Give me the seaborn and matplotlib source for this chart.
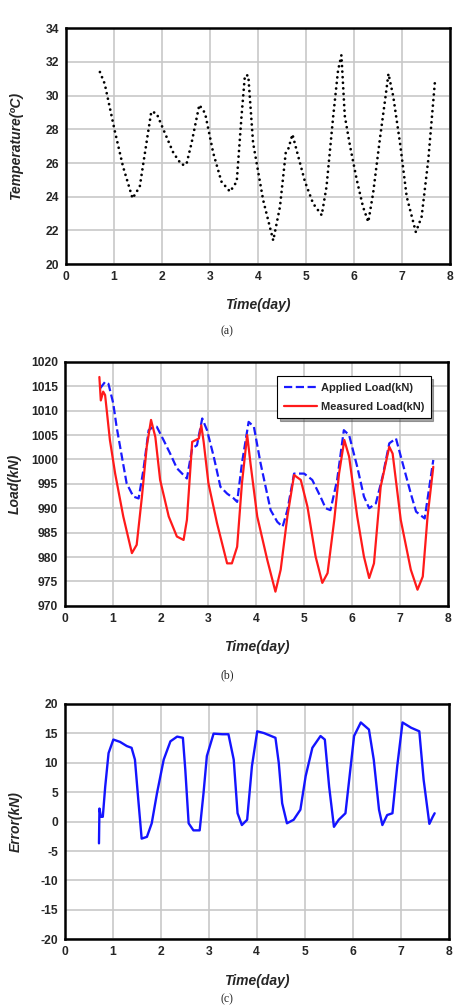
import pandas as pd
import matplotlib.pyplot as plt
import seaborn as sns

# ---- data ----
temp_time = [0.71, 0.81, 1.02, 1.19, 1.39, 1.54, 1.68, 1.78, 1.89, 2.03, 2.24, 2.41, 2.51,
             2.62, 2.78, 2.90, 3.07, 3.24, 3.42, 3.56, 3.66, 3.73, 3.80, 3.90, 4.11, 4.32,
             4.46, 4.58, 4.63, 4.72, 4.84, 4.98, 5.15, 5.33, 5.43, 5.57, 5.67, 5.74, 5.81,
             5.92, 6.06, 6.19, 6.30, 6.40, 6.54, 6.65, 6.72, 6.82, 6.96, 7.10, 7.29, 7.41,
             7.55, 7.69]
temp_vals = [31.4, 30.7, 27.9, 25.8, 23.9, 24.6, 27.2, 29.05, 28.95, 28.0, 26.6, 25.9, 25.9,
             27.2, 29.45, 28.96, 26.6, 24.9, 24.3, 24.9, 28.8, 31.2, 31.2, 27.2, 23.8, 21.4,
             23.4, 26.6, 26.8, 27.7, 26.4, 24.9, 23.6, 22.9, 24.6, 28.8, 31.5, 32.4, 28.8,
             27.0, 25.0, 23.4, 22.5, 24.2, 27.4, 29.75, 31.3, 29.95, 27.2, 24.0, 21.9, 22.8,
             26.2, 30.9]

meas_time = [0.72, 0.75, 0.80, 0.84, 0.94, 1.05, 1.22, 1.40, 1.50, 1.61, 1.71, 1.80, 1.89,
             1.99, 2.17, 2.34, 2.48, 2.55, 2.66, 2.80, 2.85, 2.90, 3.00, 3.18, 3.39, 3.49,
             3.60, 3.70, 3.81, 3.88, 4.02, 4.23, 4.40, 4.51, 4.65, 4.79, 4.93, 5.07, 5.24,
             5.38, 5.49, 5.63, 5.73, 5.84, 5.94, 6.11, 6.25, 6.36, 6.46, 6.60, 6.78, 6.85,
             7.02, 7.23, 7.37, 7.48, 7.58, 7.70]
meas_load = [1016.9, 1012.1, 1013.9, 1013.2, 1004.0, 997.1, 988.3, 980.8, 982.5, 992.4,
             1002.6, 1008.1, 1004.6, 995.8, 988.3, 984.2, 983.5, 987.6, 1003.6, 1004.3,
             1007.0, 1003.6, 995.1, 986.9, 978.7, 978.7, 982.1, 995.1, 1005.0, 999.1, 988.3,
             979.4, 972.9, 977.4, 988.3, 996.8, 995.8, 990.3, 980.1, 974.7, 976.7, 987.6,
             997.1, 1004.0, 1000.6, 988.3, 980.1, 975.7, 978.7, 994.4, 1002.6, 1001.2, 987.6,
             977.4, 973.3, 976.0, 988.3, 998.5]

appl_time = [0.73, 0.84, 0.91, 1.01, 1.08, 1.19, 1.29, 1.43, 1.54, 1.64, 1.75, 1.85, 1.92,
             2.06, 2.20, 2.34, 2.48, 2.55, 2.66, 2.76, 2.87, 2.97, 3.11, 3.25, 3.39, 3.53,
             3.60, 3.70, 3.84, 3.95, 4.09, 4.30, 4.44, 4.55, 4.65, 4.79, 5.00, 5.17, 5.34,
             5.45, 5.55, 5.69, 5.83, 5.94, 6.11, 6.25, 6.36, 6.50, 6.64, 6.78, 6.92, 7.06,
             7.23, 7.34, 7.52, 7.70]
appl_load = [1014.5, 1015.9, 1015.5, 1011.5, 1006.7, 1000.6, 995.1, 992.4, 992.0, 997.8,
             1006.0, 1006.7, 1006.7, 1004.0, 1001.2, 998.2, 996.8, 996.1, 1002.3, 1002.9,
             1008.4, 1006.0, 1000.6, 994.4, 993.0, 992.0, 991.3, 999.2, 1007.7, 1006.7, 999.2,
             989.6, 987.2, 986.2, 989.6, 997.1, 997.1, 995.8, 992.4, 990.0, 989.6, 995.8,
             1006.0, 1005.0, 998.5, 992.4, 990.0, 991.0, 996.5, 1003.3, 1004.3, 999.2, 993.0,
             989.3, 987.9, 999.9]

err_time = [0.71, 0.72, 0.75, 0.79, 0.84, 0.91, 1.01, 1.15, 1.29, 1.39, 1.46, 1.53, 1.60,
            1.71, 1.81, 1.92, 2.06, 2.20, 2.34, 2.46, 2.51, 2.58, 2.68, 2.81, 2.89, 2.96,
            3.10, 3.28, 3.41, 3.52, 3.60, 3.69, 3.80, 3.90, 4.01, 4.15, 4.39, 4.46, 4.53,
            4.63, 4.77, 4.91, 5.02, 5.16, 5.33, 5.42, 5.51, 5.61, 5.71, 5.85, 5.92, 6.03,
            6.17, 6.34, 6.44, 6.55, 6.62, 6.72, 6.83, 6.93, 7.04, 7.22, 7.39, 7.48, 7.60,
            7.67, 7.71]
err_vals = [-3.7, 2.2, 0.8, 0.8, 5.9, 11.6, 13.9, 13.5, 12.8, 12.5, 10.5, 3.7, -2.9, -2.6,
            -0.3, 4.8, 10.5, 13.6, 14.4, 14.2, 8.8, -0.3, -1.5, -1.5, 4.8, 11.1, 14.9, 14.8,
            14.8, 10.5, 1.4, -0.6, 0.3, 9.4, 15.3, 15.0, 14.2, 9.9, 3.1, -0.3, 0.3, 2.0, 7.7,
            12.5, 14.5, 13.9, 5.9, -0.9, 0.3, 1.4, 6.5, 14.5, 16.8, 15.6, 10.5, 2.0, -0.6,
            1.1, 1.4, 9.4, 16.8, 15.9, 15.3, 7.1, -0.4, 0.8, 1.4]

temp_df = pd.DataFrame({"time": temp_time, "temp": temp_vals})
meas_df = pd.DataFrame({"time": meas_time, "load": meas_load})
appl_df = pd.DataFrame({"time": appl_time, "load": appl_load})
err_df = pd.DataFrame({"time": err_time, "err": err_vals})

sns.set_style("white")
plt.rcParams['font.family'] = ['Liberation Sans', 'DejaVu Sans']
plt.rcParams['axes.unicode_minus'] = False

fig = plt.figure(figsize=(4.54, 10.08), dpi=100)
ax_a = fig.add_axes([0.145, 0.738, 0.846, 0.234])
ax_b = fig.add_axes([0.143, 0.399, 0.843, 0.242])
ax_c = fig.add_axes([0.143, 0.068, 0.845, 0.234])

# (a) temperature, fine round dots
sns.lineplot(data=temp_df, x="time", y="temp", ax=ax_a, sort=False, estimator=None,
             color="black", linestyle=(0, (0.01, 2.0)), linewidth=2.0)
ax_a.lines[0].set_dash_capstyle("round")
ax_a.set_ylim(20, 34)
ax_a.set_yticks(range(20, 35, 2))
ax_a.set_ylabel("Temperature(ºC)")

# (b) load
sns.lineplot(data=appl_df, x="time", y="load", ax=ax_b, sort=False, estimator=None,
             color="#1a1aff", linestyle="--", linewidth=1.6, label="Applied Load(kN)")
sns.lineplot(data=meas_df, x="time", y="load", ax=ax_b, sort=False, estimator=None,
             color="#ff1a1a", linewidth=1.6, label="Measured Load(kN)")
ax_b.set_ylim(970, 1020)
ax_b.set_yticks(range(970, 1021, 5))
ax_b.set_ylabel("Load(kN)")
leg = ax_b.legend(loc="upper right", bbox_to_anchor=(0.97, 0.965), frameon=True,
                  fancybox=False, shadow=True, prop={"weight": "bold", "size": 8},
                  handlelength=3.0, handletextpad=0.3, borderpad=0.6, labelspacing=0.8)
leg.get_frame().set_edgecolor("black")
leg.get_frame().set_linewidth(0.8)

# (c) error
sns.lineplot(data=err_df, x="time", y="err", ax=ax_c, sort=False, estimator=None,
             color="#1414ff", linewidth=1.7)
ax_c.set_ylim(-20, 20)
ax_c.set_yticks(range(-20, 21, 5))
ax_c.set_ylabel("Error(kN)")

for ax in (ax_a, ax_b, ax_c):
    ax.set_xlim(0, 8)
    ax.set_xticks(range(0, 9))
    ax.grid(True, color="#c8c8c8", linewidth=1.2)
    ax.set_axisbelow(True)
    for s in ax.spines.values():
        s.set_color("black")
        s.set_linewidth(1.8)
    ax.tick_params(length=0, pad=5, labelsize=8.7)
    for lbl in ax.get_xticklabels() + ax.get_yticklabels():
        lbl.set_fontweight("bold")
    ax.set_xlabel("Time(day)", fontsize=10, fontweight="bold", style="italic", labelpad=11)
    ax.yaxis.label.set_fontsize(10)
    ax.yaxis.label.set_fontweight("bold")
    ax.yaxis.label.set_style("italic")

ax_a.yaxis.labelpad = 16
ax_b.yaxis.labelpad = 7
ax_c.yaxis.labelpad = 13

fig.text(0.5, 0.671, "(a)", ha="center", va="center", fontsize=8.5, family="Liberation Serif")
fig.text(0.5, 0.330, "(b)", ha="center", va="center", fontsize=8.5, family="Liberation Serif")
fig.text(0.5, 0.003, "(c)", ha="center", va="bottom", fontsize=8.5, family="Liberation Serif")

fig.savefig("out.png", dpi=100)
